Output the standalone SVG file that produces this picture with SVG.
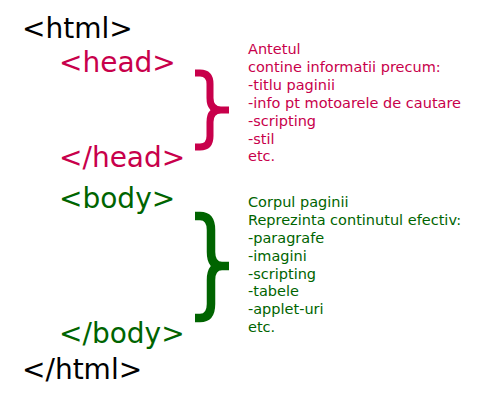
<svg xmlns="http://www.w3.org/2000/svg" width="477" height="414" viewBox="0 0 477 414">
<style>
.big{font-family:"DejaVu Sans",sans-serif;font-size:28px}
.small{font-family:"DejaVu Sans",sans-serif;font-size:14.5px}
.k{fill:#000}
.h{fill:#c8004b}
.b{fill:#006400}
.brace{fill:none;stroke-linecap:butt;stroke-linejoin:round}
</style>
<rect width="477" height="414" fill="#fff"/>
<g id="html-open"><text class="big k" x="22" y="38">&lt;html&gt;</text></g>
<g id="head-open"><text class="big h" x="59" y="72">&lt;head&gt;</text></g>
<g id="head-close"><text class="big h" x="59" y="167">&lt;/head&gt;</text></g>
<g id="body-open"><text class="big b" x="59" y="208">&lt;body&gt;</text></g>
<g id="body-close"><text class="big b" x="59" y="343">&lt;/body&gt;</text></g>
<g id="html-close"><text class="big k" x="22" y="379">&lt;/html&gt;</text></g>
<g id="head-brace"><path class="brace" stroke="#c8004b" stroke-width="7" d="M195,73 L200,73 Q210,73 210,84 L210,98 Q210,110 221,110 L229,110 M221,110 Q210,110 210,122 L210,136 Q210,147 200,147 L195,147"/></g>
<g id="body-brace"><path class="brace" stroke="#006400" stroke-width="8.5" d="M195,216 L200,216 Q211,216 211,230 L211,252 Q211,266 222,266 L229,266 M222,266 Q211,266 211,280 L211,304 Q211,318 200,318 L195,318"/></g>
<g id="head-desc">
<text class="small h" x="248" y="54">Antetul</text>
<text class="small h" x="248" y="72">contine informatii precum:</text>
<text class="small h" x="248" y="90">-titlu paginii</text>
<text class="small h" x="248" y="108">-info pt motoarele de cautare</text>
<text class="small h" x="248" y="126">-scripting</text>
<text class="small h" x="248" y="143.5">-stil</text>
<text class="small h" x="248" y="161">etc.</text>
</g>
<g id="body-desc">
<text class="small b" x="248" y="207">Corpul paginii</text>
<text class="small b" x="248" y="225">Reprezinta continutul efectiv:</text>
<text class="small b" x="248" y="243">-paragrafe</text>
<text class="small b" x="248" y="260.5">-imagini</text>
<text class="small b" x="248" y="278.5">-scripting</text>
<text class="small b" x="248" y="296">-tabele</text>
<text class="small b" x="248" y="314">-applet-uri</text>
<text class="small b" x="248" y="332">etc.</text>
</g>
</svg>
